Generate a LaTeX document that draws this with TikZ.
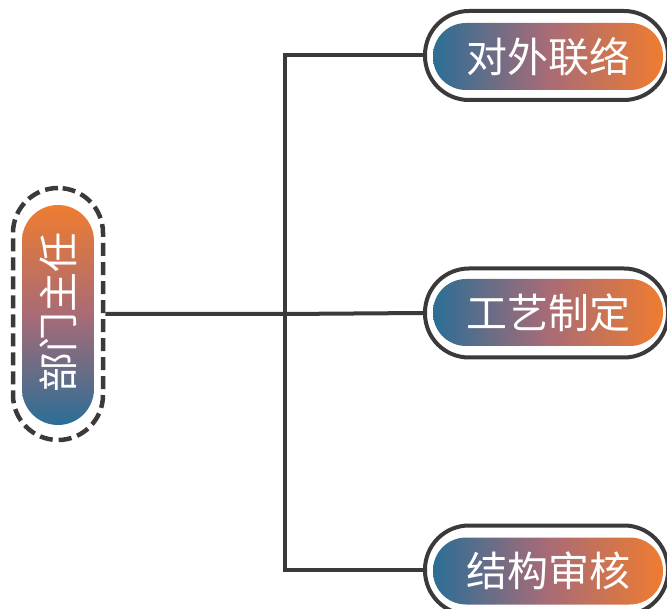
\documentclass[tikz,border=0pt]{standalone}
\usepackage{fontspec}
\newfontfamily\cjk{Noto Sans CJK SC}
\definecolor{lineg}{HTML}{3A3A3A}
\definecolor{cblue}{HTML}{2B6E96}
\definecolor{cmid}{HTML}{A86B76}
\definecolor{corange}{HTML}{EF7C30}
\begin{document}
\begin{tikzpicture}[x=1pt,y=1pt,
  outerbox/.style={draw=lineg, line width=4pt, rounded corners=44pt, minimum width=243pt, minimum height=89pt, inner sep=0pt},
  pill/.style={rounded corners=33pt, minimum width=230pt, minimum height=67pt, inner sep=0pt, left color=cblue, right color=corange, middle color=cmid, text=white, font=\cjk\fontsize{41}{44}\selectfont},
  conn/.style={draw=lineg, line width=4pt}]
\useasboundingbox (0,0) rectangle (667,-609);
\clip (0,0) rectangle (667,-609);
% left node
\node[draw=lineg, line width=4.5pt, dash pattern=on 13pt off 6pt, rounded corners=45pt, minimum width=90pt, minimum height=252pt, inner sep=0pt] (lo) at (58,-314) {};
\node[rounded corners=36pt, minimum width=72pt, minimum height=220pt, inner sep=0pt, top color=corange, bottom color=cblue, middle color=cmid] (li) at (58,-315) {};
\node[text=white, font=\cjk\fontsize{40}{43}\selectfont, rotate=90] (lt) at (58,-313) {部门主任};
% right nodes
\node[outerbox] (o1) at (546.5,-55.5) {};
\node[pill] (p1) at (548,-56.5) {对外联络};
\node[outerbox] (o2) at (546.5,-313) {};
\node[pill] (p2) at (548,-312.5) {工艺制定};
\node[outerbox] (o3) at (546.5,-570) {};
\node[pill] (p3) at (548,-571) {结构审核};
% connectors
\coordinate (vt) at (285,-55.5);
\coordinate (vm) at (285,-314);
\coordinate (vb) at (285,-570);
\draw[conn] (o1.west) -- (vt) -- (vb) -- (o3.west);
\draw[conn] (lo.east) -- (vm) -- (o2.west);
\end{tikzpicture}
\end{document}
